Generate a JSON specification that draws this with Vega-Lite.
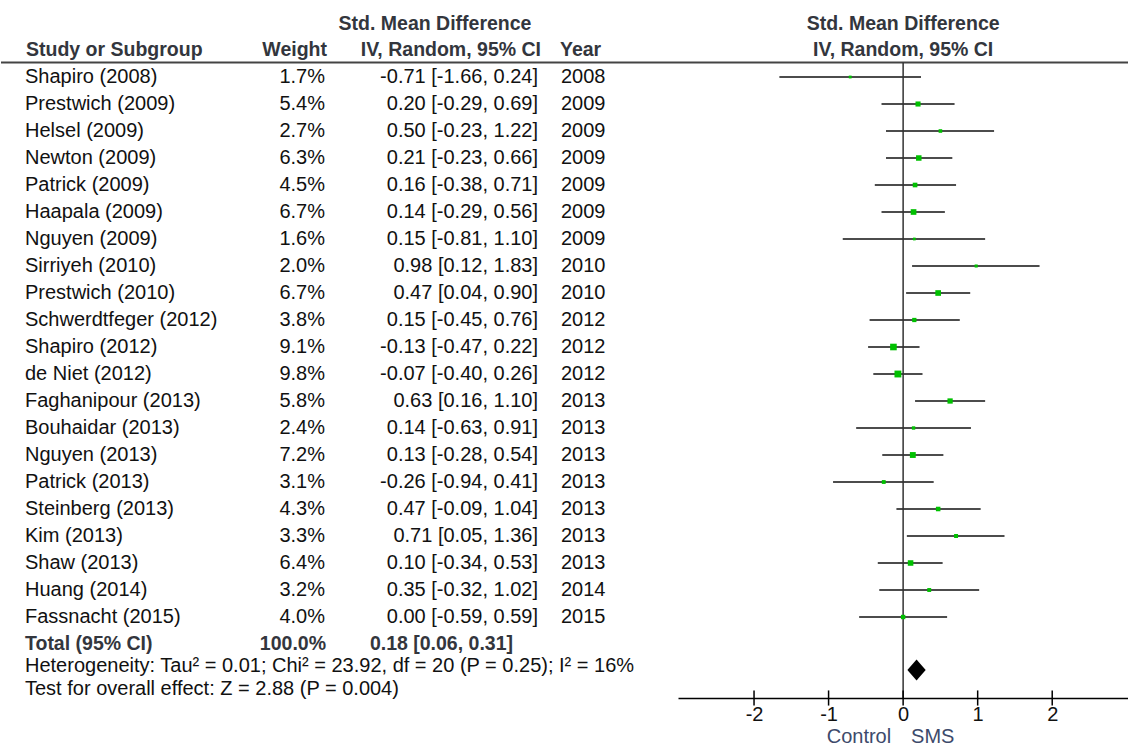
{
  "$schema": "https://vega.github.io/schema/vega-lite/v6.json",
  "padding": 0,
  "spacing": 0,
  "bounds": "flush",
  "background": "white",
  "config": {"view": {"stroke": null}, "font": "Liberation Sans", "text": {"font": "Liberation Sans", "fontSize": 20, "baseline": "middle"}},
  "datasets": {
    "studies": [
      {"row": 1, "study": "Shapiro (2008)", "weight": 0.017, "smd": -0.71, "lo": -1.66, "hi": 0.24, "year": "2008"},
      {"row": 2, "study": "Prestwich (2009)", "weight": 0.054, "smd": 0.20, "lo": -0.29, "hi": 0.69, "year": "2009"},
      {"row": 3, "study": "Helsel (2009)", "weight": 0.027, "smd": 0.50, "lo": -0.23, "hi": 1.22, "year": "2009"},
      {"row": 4, "study": "Newton (2009)", "weight": 0.063, "smd": 0.21, "lo": -0.23, "hi": 0.66, "year": "2009"},
      {"row": 5, "study": "Patrick (2009)", "weight": 0.045, "smd": 0.16, "lo": -0.38, "hi": 0.71, "year": "2009"},
      {"row": 6, "study": "Haapala (2009)", "weight": 0.067, "smd": 0.14, "lo": -0.29, "hi": 0.56, "year": "2009"},
      {"row": 7, "study": "Nguyen (2009)", "weight": 0.016, "smd": 0.15, "lo": -0.81, "hi": 1.10, "year": "2009"},
      {"row": 8, "study": "Sirriyeh (2010)", "weight": 0.020, "smd": 0.98, "lo": 0.12, "hi": 1.83, "year": "2010"},
      {"row": 9, "study": "Prestwich (2010)", "weight": 0.067, "smd": 0.47, "lo": 0.04, "hi": 0.90, "year": "2010"},
      {"row": 10, "study": "Schwerdtfeger (2012)", "weight": 0.038, "smd": 0.15, "lo": -0.45, "hi": 0.76, "year": "2012"},
      {"row": 11, "study": "Shapiro (2012)", "weight": 0.091, "smd": -0.13, "lo": -0.47, "hi": 0.22, "year": "2012"},
      {"row": 12, "study": "de Niet (2012)", "weight": 0.098, "smd": -0.07, "lo": -0.40, "hi": 0.26, "year": "2012"},
      {"row": 13, "study": "Faghanipour (2013)", "weight": 0.058, "smd": 0.63, "lo": 0.16, "hi": 1.10, "year": "2013"},
      {"row": 14, "study": "Bouhaidar (2013)", "weight": 0.024, "smd": 0.14, "lo": -0.63, "hi": 0.91, "year": "2013"},
      {"row": 15, "study": "Nguyen (2013)", "weight": 0.072, "smd": 0.13, "lo": -0.28, "hi": 0.54, "year": "2013"},
      {"row": 16, "study": "Patrick (2013)", "weight": 0.031, "smd": -0.26, "lo": -0.94, "hi": 0.41, "year": "2013"},
      {"row": 17, "study": "Steinberg (2013)", "weight": 0.043, "smd": 0.47, "lo": -0.09, "hi": 1.04, "year": "2013"},
      {"row": 18, "study": "Kim (2013)", "weight": 0.033, "smd": 0.71, "lo": 0.05, "hi": 1.36, "year": "2013"},
      {"row": 19, "study": "Shaw (2013)", "weight": 0.064, "smd": 0.10, "lo": -0.34, "hi": 0.53, "year": "2013"},
      {"row": 20, "study": "Huang (2014)", "weight": 0.032, "smd": 0.35, "lo": -0.32, "hi": 1.02, "year": "2014"},
      {"row": 21, "study": "Fassnacht (2015)", "weight": 0.040, "smd": 0.00, "lo": -0.59, "hi": 0.59, "year": "2015"}
    ],
    "total": [{"label": "Total (95% CI)", "weight": 1.0, "smd": 0.18, "lo": 0.06, "hi": 0.31}],
    "ticks": [{"v": -2}, {"v": -1}, {"v": 0}, {"v": 1}, {"v": 2}]
  },
  "hconcat": [
    {
      "width": 677,
      "height": 745,
      "data": {"name": "studies"},
      "transform": [
        {"calculate": "replace(format(datum.smd, '.2f'), '\u2212', '-') + ' [' + replace(format(datum.lo, '.2f'), '\u2212', '-') + ', ' + replace(format(datum.hi, '.2f'), '\u2212', '-') + ']'", "as": "ci"}
      ],
      "layer": [
        {"data": {"values": [{}]}, "mark": {"type": "text", "text": "Std. Mean Difference", "fontWeight": "bold", "fontSize": 19.5, "align": "center", "color": "#33363d"},
         "encoding": {"x": {"datum": 434, "type": "quantitative", "scale": {"domain": [0, 677], "nice": false, "zero": false}, "axis": null},
                      "y": {"datum": -0.96, "type": "quantitative", "scale": {"domain": [-1.852, 25.741], "reverse": true, "nice": false, "zero": false}, "axis": null}}},
        {"data": {"values": [{}]}, "mark": {"type": "text", "text": "Study or Subgroup", "fontWeight": "bold", "fontSize": 19.5, "align": "left", "color": "#33363d"},
         "encoding": {"x": {"datum": 25, "type": "quantitative", "axis": null}, "y": {"datum": 0, "type": "quantitative", "axis": null}}},
        {"data": {"values": [{}]}, "mark": {"type": "text", "text": "Weight", "fontWeight": "bold", "fontSize": 19.5, "align": "right", "color": "#33363d"},
         "encoding": {"x": {"datum": 326, "type": "quantitative", "axis": null}, "y": {"datum": 0, "type": "quantitative", "axis": null}}},
        {"data": {"values": [{}]}, "mark": {"type": "text", "text": "IV, Random, 95% CI", "fontWeight": "bold", "fontSize": 19.5, "align": "right", "color": "#33363d"},
         "encoding": {"x": {"datum": 540, "type": "quantitative", "axis": null}, "y": {"datum": 0, "type": "quantitative", "axis": null}}},
        {"data": {"values": [{}]}, "mark": {"type": "text", "text": "Year", "fontWeight": "bold", "fontSize": 19.5, "align": "left", "color": "#33363d"},
         "encoding": {"x": {"datum": 559, "type": "quantitative", "axis": null}, "y": {"datum": 0, "type": "quantitative", "axis": null}}},
        {"data": {"values": [{}]}, "mark": {"type": "rule", "color": "#444444", "strokeWidth": 2},
         "encoding": {"y": {"datum": 0.463, "type": "quantitative", "axis": null}}},
        {"mark": {"type": "text", "align": "left", "color": "#111111"},
         "encoding": {"x": {"datum": 24, "type": "quantitative", "axis": null}, "y": {"field": "row", "type": "quantitative", "axis": null}, "text": {"field": "study"}}},
        {"mark": {"type": "text", "align": "right", "color": "#111111"},
         "encoding": {"x": {"datum": 324, "type": "quantitative", "axis": null}, "y": {"field": "row", "type": "quantitative", "axis": null}, "text": {"field": "weight", "type": "quantitative", "format": ".1%"}}},
        {"mark": {"type": "text", "align": "right", "color": "#111111"},
         "encoding": {"x": {"datum": 537, "type": "quantitative", "axis": null}, "y": {"field": "row", "type": "quantitative", "axis": null}, "text": {"field": "ci"}}},
        {"mark": {"type": "text", "align": "left", "color": "#111111"},
         "encoding": {"x": {"datum": 560, "type": "quantitative", "axis": null}, "y": {"field": "row", "type": "quantitative", "axis": null}, "text": {"field": "year", "type": "nominal"}}},
        {"data": {"name": "total"}, "mark": {"type": "text", "align": "left", "fontWeight": "bold", "fontSize": 19.5, "color": "#33363d"},
         "encoding": {"x": {"datum": 24, "type": "quantitative", "axis": null}, "y": {"datum": 22, "type": "quantitative", "axis": null}, "text": {"field": "label"}}},
        {"data": {"name": "total"}, "mark": {"type": "text", "align": "right", "fontWeight": "bold", "fontSize": 19.5, "color": "#33363d"},
         "encoding": {"x": {"datum": 325, "type": "quantitative", "axis": null}, "y": {"datum": 22, "type": "quantitative", "axis": null}, "text": {"field": "weight", "type": "quantitative", "format": ".1%"}}},
        {"data": {"name": "total"},
         "transform": [{"calculate": "format(datum.smd, '.2f') + ' [' + format(datum.lo, '.2f') + ', ' + format(datum.hi, '.2f') + ']'", "as": "ci"}],
         "mark": {"type": "text", "align": "right", "fontWeight": "bold", "fontSize": 19.5, "color": "#33363d"},
         "encoding": {"x": {"datum": 512, "type": "quantitative", "axis": null}, "y": {"datum": 22, "type": "quantitative", "axis": null}, "text": {"field": "ci"}}},
        {"data": {"values": [{}]}, "mark": {"type": "text", "align": "left", "color": "#111111", "text": "Heterogeneity: Tau\u00b2 = 0.01; Chi\u00b2 = 23.92, df = 20 (P = 0.25); I\u00b2 = 16%"},
         "encoding": {"x": {"datum": 24, "type": "quantitative", "axis": null}, "y": {"datum": 22.8, "type": "quantitative", "axis": null}}},
        {"data": {"values": [{}]}, "mark": {"type": "text", "align": "left", "color": "#111111", "text": "Test for overall effect: Z = 2.88 (P = 0.004)"},
         "encoding": {"x": {"datum": 24, "type": "quantitative", "axis": null}, "y": {"datum": 23.65, "type": "quantitative", "axis": null}}}
      ]
    },
    {
      "width": 451,
      "height": 698,
      "data": {"name": "studies"},
      "layer": [
        {"mark": {"type": "rule", "color": "#111111", "strokeWidth": 1.7},
         "encoding": {
           "x": {"field": "lo", "type": "quantitative", "scale": {"domain": [-3.02, 3.03], "nice": false, "zero": false},
                 "axis": {"values": [-2, -1, 0, 1, 2], "ticks": false, "grid": false, "title": null, "domainColor": "#000000", "domainWidth": 1.5, "labelFont": "Liberation Sans", "labelFontSize": 20, "labelColor": "#111111", "labelPadding": 6, "labelExpr": "'' + datum.value"}},
           "x2": {"field": "hi"},
           "y": {"field": "row", "type": "quantitative", "scale": {"domain": [-1.852, 24], "reverse": true, "nice": false, "zero": false}, "axis": null}}},
        {"data": {"values": [{}]}, "mark": {"type": "rule", "color": "#444444", "strokeWidth": 2},
         "encoding": {"y": {"datum": 0.463, "type": "quantitative", "axis": null}}},
        {"data": {"values": [{}]}, "mark": {"type": "rule", "color": "#333333", "strokeWidth": 1.5},
         "encoding": {"x": {"datum": 0, "type": "quantitative"}, "y": {"datum": 0.463, "type": "quantitative", "axis": null}, "y2": {"datum": 24}}},
        {"data": {"name": "ticks"}, "mark": {"type": "rule", "color": "#000000", "strokeWidth": 1.5},
         "encoding": {"x": {"field": "v", "type": "quantitative"}, "y": {"datum": 23.72, "type": "quantitative", "axis": null}, "y2": {"datum": 24.28}}},
        {"mark": {"type": "square", "filled": true, "opacity": 1, "color": "#00c000"},
         "encoding": {"x": {"field": "smd", "type": "quantitative"}, "y": {"field": "row", "type": "quantitative", "axis": null},
                      "size": {"field": "weight", "type": "quantitative", "scale": {"domain": [0, 0.1], "range": [0, 48], "zero": true}, "legend": null}}},
        {"data": {"name": "total"}, "mark": {"type": "point", "filled": true, "opacity": 1, "color": "#000000", "shape": "M-0.87,0L0,-1L0.87,0L0,1Z", "size": 441},
         "encoding": {"x": {"field": "smd", "type": "quantitative"}, "y": {"datum": 22.96, "type": "quantitative", "axis": null}}},
        {"data": {"values": [{}]}, "mark": {"type": "text", "text": "Std. Mean Difference", "fontWeight": "bold", "fontSize": 19.5, "align": "center", "color": "#33363d"},
         "encoding": {"x": {"datum": 0, "type": "quantitative"}, "y": {"datum": -0.96, "type": "quantitative", "axis": null}}},
        {"data": {"values": [{}]}, "mark": {"type": "text", "text": "IV, Random, 95% CI", "fontWeight": "bold", "fontSize": 19.5, "align": "center", "color": "#33363d"},
         "encoding": {"x": {"datum": 0, "type": "quantitative"}, "y": {"datum": 0, "type": "quantitative", "axis": null}}},
        {"data": {"values": [{}]}, "mark": {"type": "text", "text": "Control", "align": "right", "color": "#3d4a6b"},
         "encoding": {"x": {"datum": -0.16, "type": "quantitative"}, "y": {"datum": 25.44, "type": "quantitative", "axis": null}}},
        {"data": {"values": [{}]}, "mark": {"type": "text", "text": "SMS", "align": "left", "color": "#3d4a6b"},
         "encoding": {"x": {"datum": 0.107, "type": "quantitative"}, "y": {"datum": 25.44, "type": "quantitative", "axis": null}}}
      ]
    }
  ]
}
